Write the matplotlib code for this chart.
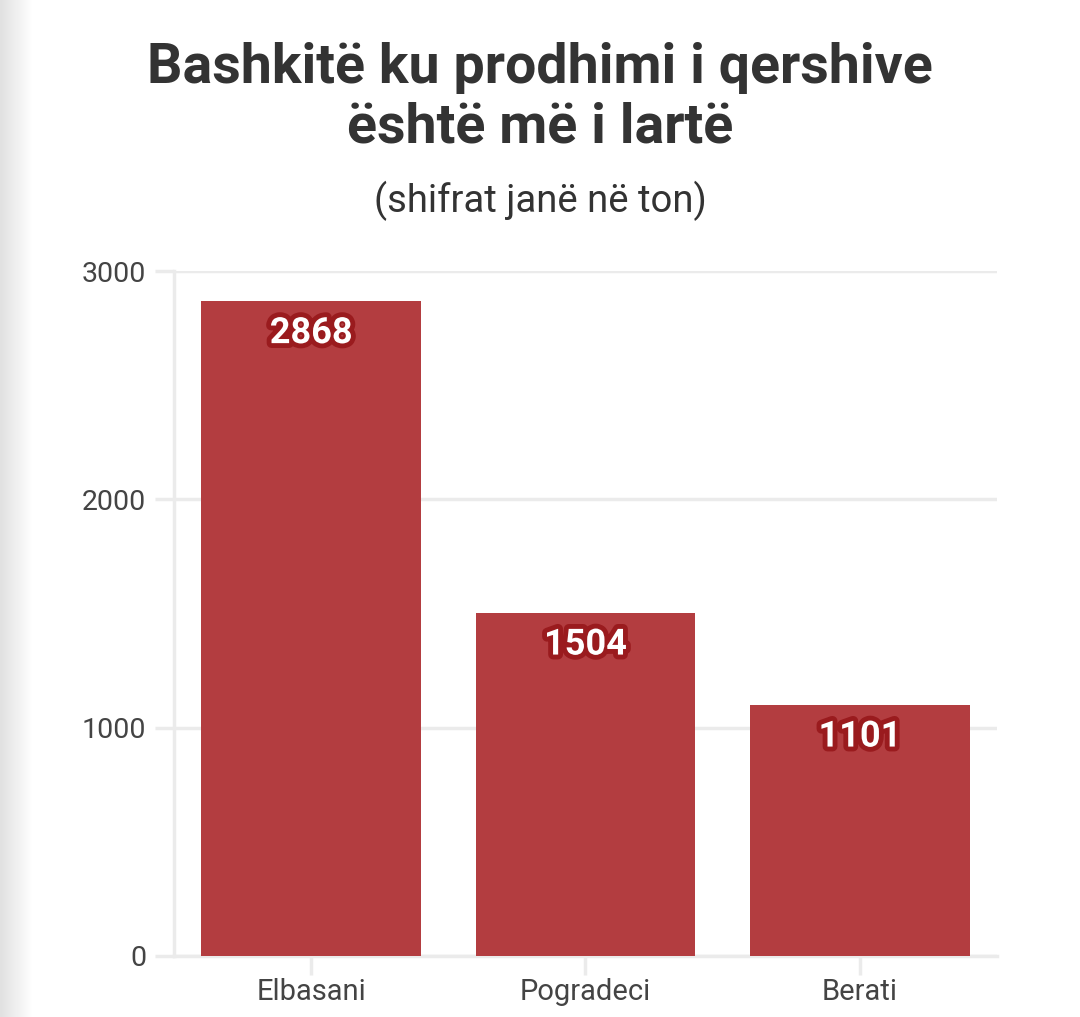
import matplotlib.pyplot as plt
import matplotlib.patheffects as pe
import numpy as np

# data
municipalities = ['Elbasani', 'Pogradeci', 'Berati']
production = [2868, 1504, 1101]
yticks = [0, 1000, 2000, 3000]

title = 'Bashkitë ku prodhimi i qershive\nështë më i lartë'
subtitle = '(shifrat janë në ton)'

bar_color = '#b33d40'
text_color = '#333333'
grid_color = '#ebebeb'

plt.rcParams['font.family'] = ['Roboto', 'DejaVu Sans']

fig = plt.figure(figsize=(10.8, 10.17), dpi=100)

# soft grey shadow on the left edge
shade = fig.add_axes([0, 0, 0.03, 1])
grad = np.linspace(0.88, 1.0, 64).reshape(1, -1)
shade.imshow(grad, cmap='gray', vmin=0, vmax=1, aspect='auto', extent=[0, 1, 0, 1])
shade.axis('off')

ax = fig.add_axes([0.1611, 0.0600, 0.9231 - 0.1611, 0.7335 - 0.0600])
x = np.arange(len(municipalities))
bars = ax.bar(x, production, width=0.8, color=bar_color, zorder=3)

for xi, v in zip(x, production):
    ax.text(xi, v - 140, str(v), ha='center', va='center', fontsize=26,
            fontweight='bold', color='white', zorder=4,
            path_effects=[pe.withStroke(linewidth=7, foreground='#9a1b1e')])

ax.set_xlim(-0.5, 2.5)
ax.set_ylim(0, 3000)
ax.set_yticks(yticks)
ax.set_yticklabels([str(t) for t in yticks])
ax.set_xticks(x)
ax.set_xticklabels(municipalities)
ax.yaxis.grid(True, color=grid_color, linewidth=2.5, zorder=0)
ax.set_axisbelow(True)

for side in ['top', 'right']:
    ax.spines[side].set_visible(False)
for side in ['left', 'bottom']:
    ax.spines[side].set_color(grid_color)
    ax.spines[side].set_linewidth(2.5)

ax.tick_params(axis='y', length=14, width=2.5, color=grid_color, labelsize=20.5,
               labelcolor='#444444', pad=6)
ax.tick_params(axis='x', length=14, width=2.5, color=grid_color, labelsize=21,
               labelcolor='#444444', pad=2)

fig.text(0.5, 0.904, title, ha='center', va='center', fontsize=40,
         fontweight='bold', color=text_color, linespacing=1.2)
fig.text(0.5, 0.802, subtitle, ha='center', va='center', fontsize=27.5,
         color=text_color)

fig.savefig('out.png', dpi=100, facecolor='white')
